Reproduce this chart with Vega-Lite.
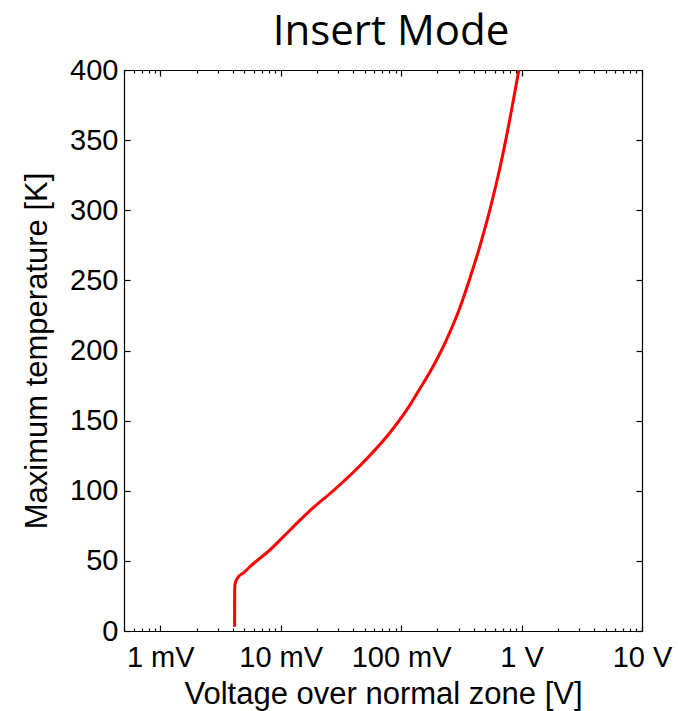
{
  "$schema": "https://vega.github.io/schema/vega-lite/v6.json",
  "width": 518,
  "height": 561,
  "autosize": {"type": "none"},
  "padding": {"left": 124, "top": 70, "right": 36, "bottom": 80},
  "background": "white",
  "title": {
    "text": "Insert Mode",
    "font": "Open Sans",
    "fontSize": 42,
    "fontWeight": "normal",
    "color": "black",
    "anchor": "middle",
    "offset": 2,
    "dx": 8
  },
  "config": {
    "view": {"stroke": null},
    "axis": {
      "grid": false,
      "domainColor": "black",
      "domainWidth": 1.2,
      "tickColor": "black",
      "tickWidth": 1.2,
      "labelColor": "black",
      "labelFont": "Liberation Sans",
      "labelFontSize": 29,
      "titleFont": "Liberation Sans",
      "titleFontSize": 31,
      "titleFontWeight": "normal",
      "titleColor": "black",
      "labelFlush": false,
      "labelOverlap": false
    }
  },
  "data": {
    "values": [
      {"v": 0.00414, "t": 3},
      {"v": 0.00415, "t": 30},
      {"v": 0.00419, "t": 34},
      {"v": 0.0044, "t": 38},
      {"v": 0.005, "t": 42},
      {"v": 0.00558, "t": 46},
      {"v": 0.00819, "t": 58},
      {"v": 0.0099, "t": 65},
      {"v": 0.0176, "t": 86},
      {"v": 0.0273, "t": 100},
      {"v": 0.0457, "t": 118},
      {"v": 0.0766, "t": 139},
      {"v": 0.112, "t": 158},
      {"v": 0.139, "t": 171},
      {"v": 0.185, "t": 189},
      {"v": 0.239, "t": 208},
      {"v": 0.309, "t": 231},
      {"v": 0.374, "t": 252},
      {"v": 0.453, "t": 275},
      {"v": 0.548, "t": 301},
      {"v": 0.664, "t": 331},
      {"v": 0.8, "t": 365},
      {"v": 0.95, "t": 400}
    ]
  },
  "resolve": {"axis": {"x": "independent", "y": "independent"}},
  "layer": [
    {
      "mark": {"type": "line", "color": "#FF0000", "strokeWidth": 3, "clip": true, "interpolate": "monotone"},
      "encoding": {
        "x": {
          "field": "v", "type": "quantitative",
          "scale": {"type": "log", "domain": [0.0005, 10], "nice": false},
          "axis": {
            "orient": "bottom",
            "title": "Voltage over normal zone [V]",
            "titlePadding": 4,
            "values": [0.0005,0.0006,0.0007,0.0008,0.0009,0.001,0.002,0.003,0.004,0.005,0.006,0.007,0.008,0.009,0.01,0.02,0.03,0.04,0.05,0.06,0.07,0.08,0.09,0.1,0.2,0.3,0.4,0.5,0.6,0.7,0.8,0.9,1,2,3,4,5,6,7,8,9,10],
            "labelExpr": "abs(log(datum.value)/LN10 - round(log(datum.value)/LN10)) < 0.000001 ? (datum.value < 0.9 ? format(datum.value*1000, '.0f') + ' mV' : format(datum.value, '.0f') + ' V') : ''",
            "tickSize": {"condition": {"test": "abs(log(datum.value)/LN10 - round(log(datum.value)/LN10)) < 0.000001", "value": -6}, "value": -3},
            "labelPadding": 18
          }
        },
        "y": {
          "field": "t", "type": "quantitative",
          "scale": {"domain": [0, 400], "nice": false},
          "axis": {
            "orient": "left",
            "title": "Maximum temperature [K]",
            "values": [0, 50, 100, 150, 200, 250, 300, 350, 400],
            "tickSize": -6,
            "labelPadding": 12,
            "titlePadding": 16
          }
        }
      }
    },
    {
      "mark": {"type": "line", "strokeOpacity": 0},
      "encoding": {
        "x": {
          "field": "v", "type": "quantitative",
          "scale": {"type": "log", "domain": [0.0005, 10], "nice": false},
          "axis": {
            "orient": "top",
            "title": null,
            "labels": false,
            "values": [0.0005,0.0006,0.0007,0.0008,0.0009,0.001,0.002,0.003,0.004,0.005,0.006,0.007,0.008,0.009,0.01,0.02,0.03,0.04,0.05,0.06,0.07,0.08,0.09,0.1,0.2,0.3,0.4,0.5,0.6,0.7,0.8,0.9,1,2,3,4,5,6,7,8,9,10],
            "tickSize": {"condition": {"test": "abs(log(datum.value)/LN10 - round(log(datum.value)/LN10)) < 0.000001", "value": -6}, "value": -3}
          }
        },
        "y": {
          "field": "t", "type": "quantitative",
          "scale": {"domain": [0, 400], "nice": false},
          "axis": {
            "orient": "right",
            "title": null,
            "labels": false,
            "values": [0, 50, 100, 150, 200, 250, 300, 350, 400],
            "tickSize": -6
          }
        }
      }
    }
  ]
}
